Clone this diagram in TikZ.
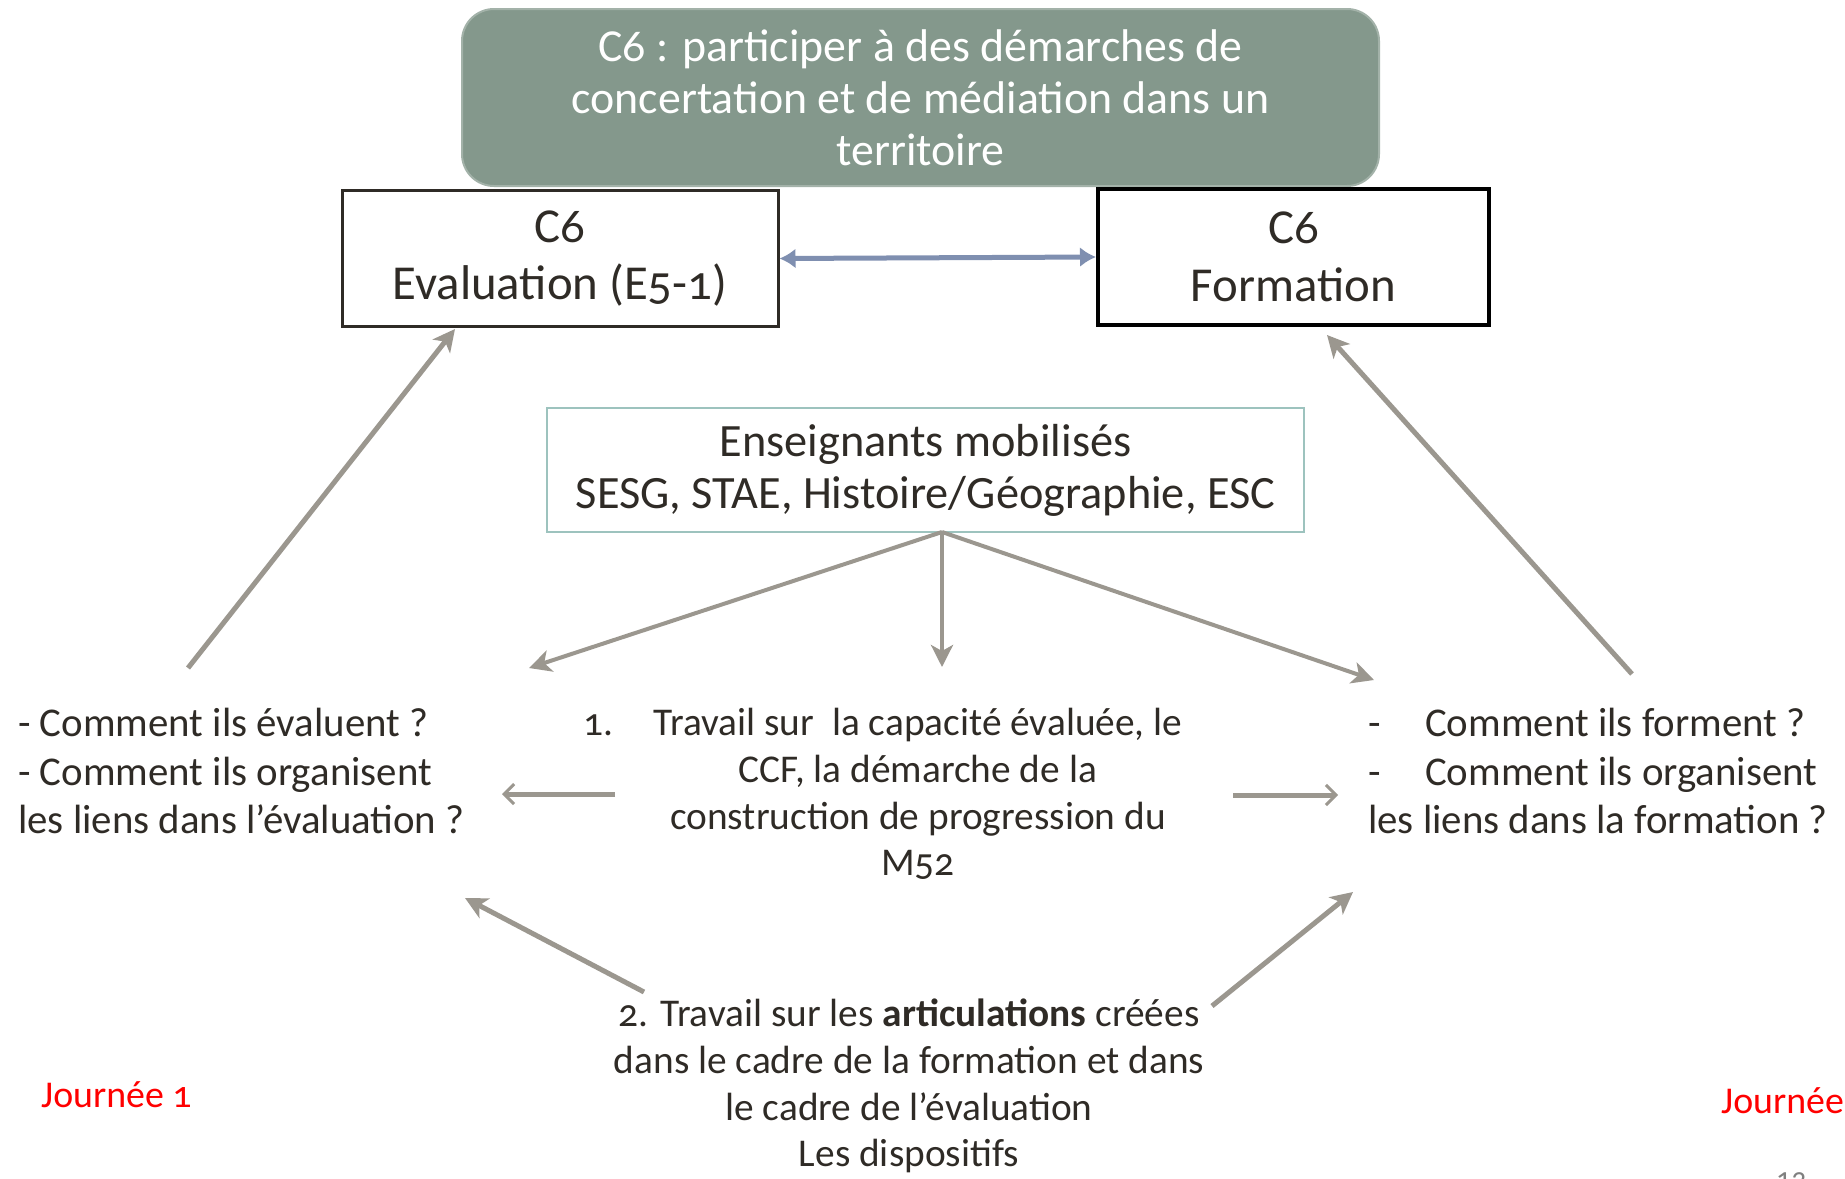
\documentclass[tikz,border=0pt]{standalone}
\usepackage{fontspec}
\setmainfont{Carlito}[Numbers=OldStyle]
\usetikzlibrary{arrows.meta,positioning}
\definecolor{sage}{HTML}{84988C}
\definecolor{ink}{HTML}{2F2B26}
\definecolor{linkgray}{HTML}{9B978F}
\definecolor{linkblue}{HTML}{7F8FB0}
\definecolor{tealline}{HTML}{9DC3BE}

\begin{document}
\begin{tikzpicture}[x=1bp,y=-1bp,
    every node/.style={text=ink,inner sep=0pt},
    title/.style={fill=sage,draw=sage!75!white,line width=2bp,rounded corners=32bp,
      text=white,align=center,minimum width=917bp,minimum height=177bp,
      font=\fontsize{46}{52}\selectfont},
    comp/.style={draw,line width=3bp,align=center,minimum height=136bp,
      font=\fontsize{49}{58}\selectfont},
    who/.style={draw=tealline,line width=2bp,align=center,minimum width=757bp,
      minimum height=124bp,font=\fontsize{46.5}{52}\selectfont},
    txt/.style={font=\fontsize{41}{49}\selectfont},
    work/.style={align=center,font=\fontsize{39.5}{47}\selectfont},
    day/.style={text=red,font=\fontsize{38}{44}\selectfont},
    link/.style={draw=linkgray,line width=5bp,-{Stealth[length=22bp,width=22bp,inset=6bp]}},
    side/.style={draw=linkgray,line width=5bp,-{Straight Barb[length=10bp,width=20bp,line width=3bp]}}]
  \useasboundingbox (0,0) rectangle (1845,1178);

  % top
  \node[title] (c6) at (920.5,97.5) {C6 : participer à des démarches de\\
    concertation et de médiation dans un\\ territoire};
  \node[comp,draw=ink,minimum width=436bp] (eval) at (560,258.5) {C6\\Evaluation (E5-1)};
  \node[comp,draw=black,line width=4bp,minimum width=391bp] (form) at (1293.5,257) {C6\\Formation};
  \draw[linkblue,line width=5bp,{Latex[length=16bp,width=20bp]}-{Latex[length=16bp,width=20bp]}]
    (eval.east) -- (form.west);

  % teachers
  \node[who] (profs) at (925.5,470) {Enseignants mobilisés\\SESG, STAE, Histoire/Géographie, ESC};
  \coordinate (hub) at (942,532);

  % questions and work
  \node[txt,align=left,anchor=west] (qeval) at (18,771)
    {- Comment ils évaluent ?\\- Comment ils organisent\\les liens dans l’évaluation ?};
  \node[work] (work1) at (918,794)
    {\llap{1.\hspace{40bp}}Travail sur\ \ la capacité évaluée, le\\CCF, la démarche de la\\
     construction de progression du\\M52};
  \node[txt,align=left,anchor=west] (qform) at (1368,771)
    {\makebox[57bp][l]{-}Comment ils forment ?\\\makebox[57bp][l]{-}Comment ils organisent\\
     les liens dans la formation ?};
  \node[work] (work2) at (909,1086)
    {2. Travail sur les \textbf{articulations} créées\\dans le cadre de la formation et dans\\
     le cadre de l’évaluation\\Les dispositifs};

  \node[day,anchor=west] (day1) at (41,1095) {Journée 1};
  \node[day,anchor=west] (day2) at (1721,1101) {Journée 2};
  \node[anchor=base west,text=gray,font=\fontsize{30}{36}\selectfont] (page) at (1776,1188) {12};

  % end points of the links
  \coordinate (qevaltop) at (188,668);
  \coordinate (qformtop) at (1632,674);
  \coordinate (toleft) at (529,668);
  \coordinate (todown) at (942,667);
  \coordinate (toright) at (1374,680);
  \coordinate (w1left) at (615,794);
  \coordinate (w1right) at (1233,795);
  \coordinate (w2left) at (644,992);
  \coordinate (w2right) at (1212,1006);

  \draw[link] (qevaltop) -- (455,329);
  \draw[link] (qformtop) -- (1327,335);
  \draw[link,line width=4bp] (hub) -- (toleft);
  \draw[link,line width=4bp] (hub) -- (todown);
  \draw[link,line width=4bp] (hub) -- (toright);
  \draw[side] (w1left) -- (502,794);
  \draw[side] (w1right) -- (1338,795);
  \draw[link] (w2left) -- (465,898);
  \draw[link] (w2right) -- (1353,892);
\end{tikzpicture}
\end{document}
